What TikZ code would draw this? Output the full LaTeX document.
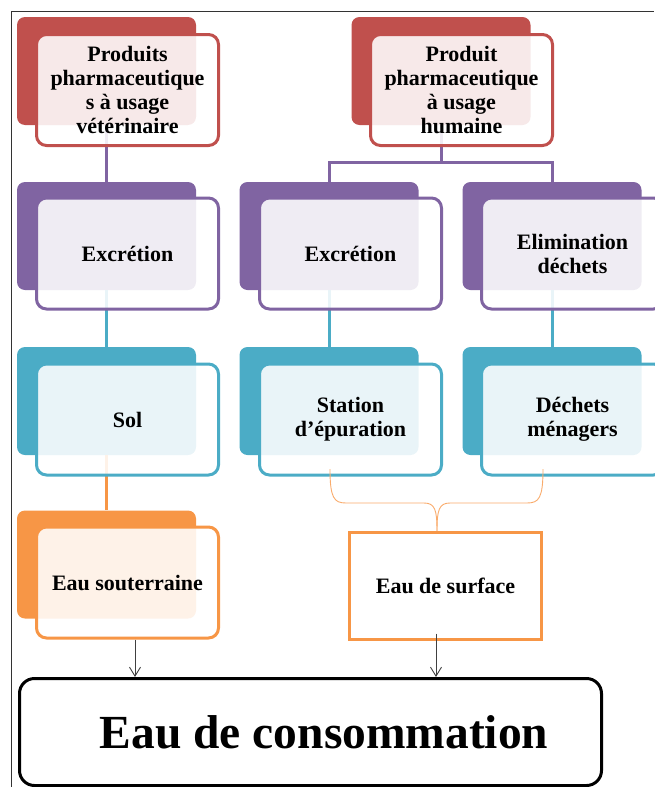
\documentclass[tikz,border=0pt]{standalone}
\usepackage{fontspec}
\setmainfont{Liberation Serif}
\usetikzlibrary{arrows.meta}
\definecolor{redacc}{HTML}{C0504D}
\definecolor{purpleacc}{HTML}{8064A2}
\definecolor{tealacc}{HTML}{4BACC6}
\definecolor{orangeacc}{HTML}{F79646}
\begin{document}
\begin{tikzpicture}[x=1pt,y=-1pt,
        back/.style={fill=#1,rounded corners=8pt,minimum width=179pt,minimum height=108pt,inner sep=0pt},
        front/.style={draw=#1,line width=3pt,fill=white,fill opacity=0.88,text opacity=1,rounded corners=10pt,
            minimum width=182pt,minimum height=111pt,inner sep=0pt,align=center,
            font=\fontsize{22}{24}\selectfont\bfseries},
        link/.style={draw=#1,line width=3pt},
        arr/.style={draw=black!75,line width=0.9pt,-{Straight Barb[length=9pt,width=11pt]}}]
    \useasboundingbox (0,0) rectangle (654,787);
    \draw[black!80,line width=1pt] (11,787) -- (11,11) -- (654,11);
    \node[back=redacc] (vb) at (106.5,71) {};
    \node[back=redacc] (hb) at (441,71) {};
    \node[back=purpleacc] (e1) at (106.5,236) {};
    \node[back=purpleacc] (e2) at (329,236) {};
    \node[back=purpleacc] (e3) at (552,236) {};
    \node[back=tealacc] (s1) at (106.5,401) {};
    \node[back=tealacc] (s2) at (329,401) {};
    \node[back=tealacc] (s3) at (552,401) {};
    \node[back=orangeacc] (u1) at (106.5,564.5) {};
    \draw[link=purpleacc] (vb.south) -- (e1.north);
    \draw[link=purpleacc] (hb.south) -- ++(0,37) coordinate (hm);
    \draw[link=purpleacc] (e2.north) |- (hm) -| (e3.north);
    \draw[link=tealacc] (e1.south) -- (s1.north);
    \draw[link=tealacc] (e2.south) -- (s2.north);
    \draw[link=tealacc] (e3.south) -- (s3.north);
    \draw[link=orangeacc] (s1.south) -- (u1.north);
    \node[front=redacc] (vf) at (127.5,90) {Produits\\pharmaceutique\\s à usage\\vétérinaire};
    \node[front=redacc] (hf) at (461.5,90) {Produit\\pharmaceutique\\à usage\\humaine};
    \node[front=purpleacc] (ef1) at (127.5,253.5) {Excrétion};
    \node[front=purpleacc] (ef2) at (350.5,253.5) {Excrétion};
    \node[front=purpleacc] (ef3) at (572.5,253.5) {Elimination\\déchets};
    \node[front=tealacc] (sf1) at (127.5,419.5) {Sol};
    \node[front=tealacc] (sf2) at (350.5,419.5) {Station\\d’épuration};
    \node[front=tealacc] (sf3) at (572.5,419.5) {Déchets\\ménagers};
    \node[front=orangeacc] (sou) at (127.5,582.5) {Eau souterraine};
    \node[draw=orangeacc,line width=3pt,fill=white,minimum width=192pt,minimum height=107pt,
        font=\fontsize{22}{24}\selectfont\bfseries] (surf) at (445.5,586) {Eau de surface};
    \coordinate (bl) at (330,469);
    \coordinate (br) at (543,469);
    \draw[orangeacc!80,line width=0.9pt] (bl) .. controls (330,498) and (334,503) .. (346,503) -- (424,503)
        .. controls (435,503) and (437,510) .. (surf.north -| 437,0);
    \draw[orangeacc!80,line width=0.9pt] (br) .. controls (543,498) and (539,503) .. (527,503) -- (450,503)
        .. controls (439,503) and (437,510) .. (surf.north -| 437,0);
    \node[draw,line width=3pt,rounded corners=15pt,minimum width=582pt,minimum height=107pt,
        font=\fontsize{47.5}{50}\selectfont\bfseries] (conso) at (310.5,732) {\hspace*{27pt}Eau de consommation};
    \draw[arr] ([xshift=7.5pt]sou.south) -- ([xshift=7.5pt]sou.south |- conso.north);
    \draw[arr] ([xshift=-9.5pt,yshift=7.5pt]surf.south) -- ([xshift=-9.5pt]surf.south |- conso.north);
\end{tikzpicture}
\end{document}
